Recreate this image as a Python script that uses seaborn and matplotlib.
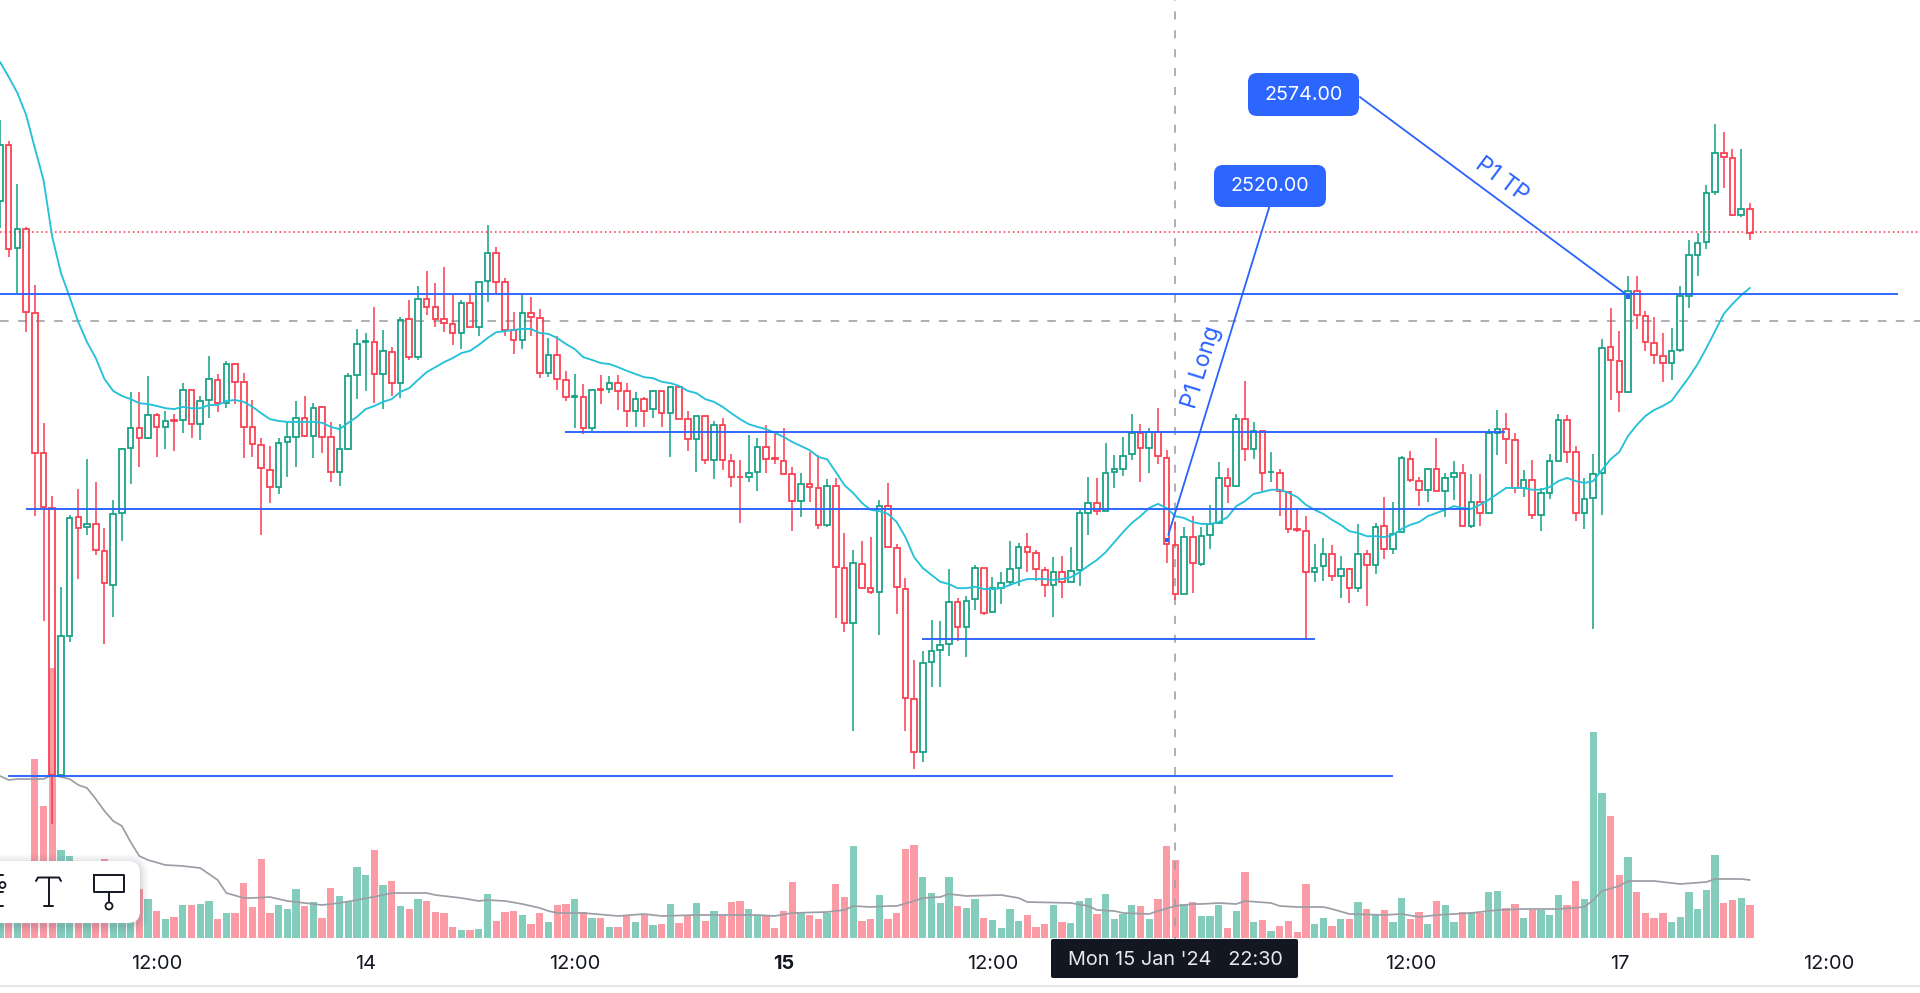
import numpy as np
import pandas as pd
import matplotlib
matplotlib.use("Agg")
import matplotlib.pyplot as plt
import seaborn as sns
from matplotlib.patches import FancyBboxPatch, Circle
from matplotlib.lines import Line2D
from matplotlib.transforms import IdentityTransform

highs = [
2612.2,2607.6,2598.1,2588.7,2575.9,2545.7,2529.6,2509.7,2525.5,2531.2,
2537.7,2532.7,2522.6,2528.8,2540.2,2552.5,2552.5,2556.0,2547.8,2548.3,
2547.6,2554.4,2552.9,2551.6,2560.4,2556.4,2559.3,2558.8,2556.6,2550.7,
2542.4,2540.6,2542.4,2545.9,2550.5,2551.6,2550.0,2549.4,2545.9,2545.4,
2556.6,2566.3,2565.4,2571.1,2566.1,2562.3,2568.9,2572.7,2575.7,2579.0,
2576.4,2579.9,2573.7,2572.7,2574.2,2576.6,2589.1,2584.3,2577.5,2570.0,
2573.7,2573.3,2570.7,2564.3,2564.7,2557.1,2556.4,2554.2,2553.1,2556.2,
2556.0,2556.2,2554.4,2552.5,2551.4,2552.9,2552.7,2553.8,2553.8,2548.3,
2547.2,2547.2,2546.1,2546.7,2538.8,2537.5,2543.0,2542.4,2545.2,2543.2,
2544.6,2536.0,2534.7,2539.3,2538.6,2533.4,2533.6,2521.5,2517.8,2519.7,
2520.6,2528.8,2532.5,2519.1,2511.6,2493.6,2495.6,2502.4,2502.2,2513.6,
2507.2,2507.7,2514.5,2513.8,2511.8,2512.9,2519.7,2519.3,2521.5,2517.8,
2514.0,2516.2,2516.5,2518.4,2526.6,2533.8,2533.6,2541.3,2538.6,2542.6,
2547.6,2545.4,2544.6,2548.9,2539.7,2523.9,2522.8,2525.2,2522.8,2527.7,
2537.1,2535.8,2547.6,2554.9,2545.9,2543.9,2539.3,2535.6,2530.7,2527.0,
2525.2,2519.1,2520.4,2518.9,2516.5,2513.8,2523.5,2517.8,2523.7,2529.4,
2528.3,2538.4,2539.5,2533.8,2535.8,2542.4,2534.7,2537.3,2536.6,2534.5,
2534.5,2544.3,2548.5,2547.8,2543.5,2535.3,2537.5,2531.4,2538.8,2547.6,
2547.4,2540.6,2533.6,2538.8,2564.1,2570.9,2565.8,2577.9,2577.9,2570.2,
2568.9,2565.4,2566.5,2575.7,2585.8,2587.4,2597.9,2611.3,2609.5,2605.8,
2605.8,2593.9]

lows = [
2588.5,2582.1,2574.2,2565.6,2525.2,2502.2,2457.6,2468.4,2497.6,2511.4,
2521.1,2516.7,2497.1,2503.1,2519.7,2532.3,2536.0,2542.1,2538.2,2539.9,
2539.5,2543.5,2542.4,2541.9,2546.7,2548.1,2548.9,2549.8,2538.0,2538.2,
2521.1,2528.1,2530.1,2533.8,2536.0,2542.6,2538.0,2539.1,2532.7,2531.8,
2539.7,2550.9,2552.7,2550.0,2548.7,2551.6,2551.1,2559.5,2559.5,2569.4,
2566.7,2565.6,2562.8,2561.9,2566.7,2564.7,2572.2,2574.2,2564.7,2560.8,
2561.9,2564.7,2555.5,2555.7,2552.9,2550.5,2544.6,2543.2,2543.9,2549.8,
2552.2,2548.5,2544.8,2544.8,2544.8,2546.7,2544.8,2538.2,2546.5,2539.5,
2534.9,2536.6,2533.4,2535.3,2531.6,2523.7,2532.7,2530.7,2534.7,2536.6,
2534.5,2521.9,2525.0,2528.3,2522.4,2522.8,2502.8,2499.8,2478.0,2509.2,
2508.1,2499.1,2518.4,2503.7,2478.0,2469.7,2471.2,2487.7,2487.7,2494.5,
2497.8,2494.3,2504.6,2503.5,2503.9,2505.9,2509.9,2509.9,2512.9,2511.0,
2507.5,2503.1,2507.2,2510.8,2509.9,2521.1,2525.5,2526.3,2531.4,2534.0,
2537.5,2532.7,2534.7,2536.6,2514.9,2506.8,2508.1,2508.3,2514.3,2518.0,
2523.5,2528.1,2531.8,2537.3,2537.7,2530.7,2532.7,2525.2,2521.5,2521.7,
2498.0,2510.8,2511.0,2511.0,2507.2,2506.1,2508.6,2505.5,2512.5,2515.8,
2516.9,2521.5,2532.7,2527.4,2528.3,2530.7,2525.0,2528.8,2523.0,2522.6,
2523.0,2525.7,2538.6,2536.6,2530.3,2529.4,2524.6,2521.9,2529.0,2537.3,
2536.9,2524.1,2522.4,2500.4,2525.5,2550.7,2548.1,2552.2,2566.3,2561.5,
2558.6,2554.7,2555.1,2561.2,2570.9,2577.9,2583.8,2595.7,2597.2,2591.1,
2590.9,2585.8]

opens = [
2594.4,2606.7,2584.1,2588.2,2569.8,2539.1,2527.0,2468.4,2498.9,2525.0,
2522.8,2523.5,2517.6,2510.1,2525.9,2540.2,2544.6,2542.4,2547.4,2544.8,
2546.4,2546.3,2552.9,2545.4,2550.7,2555.1,2550.0,2558.6,2554.7,2544.8,
2540.8,2535.3,2531.6,2541.5,2542.6,2546.7,2542.8,2549.2,2542.6,2534.9,
2539.9,2556.2,2563.4,2563.4,2556.4,2561.2,2554.4,2568.5,2560.1,2572.9,
2571.1,2568.5,2567.4,2565.4,2572.0,2566.7,2576.8,2583.0,2576.6,2566.1,
2563.9,2569.8,2568.7,2556.6,2560.6,2555.1,2551.3,2551.4,2544.6,2553.2,
2553.1,2554.4,2552.7,2548.3,2550.9,2548.7,2552.7,2547.8,2553.6,2546.5,
2542.1,2547.2,2537.5,2545.2,2537.3,2533.9,2533.8,2534.9,2540.4,2538.0,
2537.3,2534.5,2528.5,2532.3,2531.4,2523.3,2531.8,2513.8,2501.7,2514.7,
2509.4,2508.6,2527.4,2518.2,2509.2,2485.1,2473.4,2493.2,2495.8,2497.1,
2506.4,2500.9,2507.0,2513.8,2504.2,2509.4,2510.8,2513.8,2518.4,2517.1,
2513.4,2510.1,2512.9,2510.8,2513.4,2525.9,2528.1,2526.3,2534.9,2535.6,
2538.8,2543.5,2540.2,2543.7,2538.0,2518.9,2508.1,2520.6,2514.7,2521.1,
2523.7,2533.6,2531.8,2546.5,2539.9,2543.9,2534.9,2534.7,2530.5,2522.4,
2521.9,2512.9,2514.3,2516.9,2512.1,2513.6,2509.4,2516.9,2514.5,2523.0,
2518.0,2521.7,2537.7,2532.9,2531.0,2535.6,2530.7,2533.8,2534.7,2523.0,
2528.3,2525.9,2543.5,2544.3,2541.9,2531.4,2533.1,2525.5,2530.3,2537.3,
2546.3,2539.3,2525.9,2529.2,2534.7,2562.3,2559.3,2552.5,2574.6,2569.1,
2563.2,2560.4,2558.8,2561.7,2573.5,2582.5,2585.4,2596.4,2604.9,2603.8,
2591.3,2592.6]

closes = [
2606.7,2583.8,2588.2,2570.0,2539.1,2527.2,2468.4,2498.9,2524.8,2522.6,
2523.5,2517.8,2510.5,2525.7,2539.9,2544.6,2542.4,2547.4,2544.8,2546.1,
2546.2,2552.9,2545.4,2550.5,2555.3,2550.0,2558.6,2554.7,2544.8,2541.0,
2535.8,2531.6,2541.3,2542.6,2546.7,2542.8,2548.9,2542.6,2534.9,2539.9,
2556.0,2563.0,2563.7,2556.4,2561.5,2554.4,2568.3,2560.1,2572.9,2571.1,
2568.5,2567.6,2565.4,2572.0,2566.7,2576.6,2583.0,2576.6,2566.1,2563.9,
2569.8,2568.9,2556.6,2560.6,2555.3,2551.4,2551.5,2544.6,2552.9,2552.9,
2554.4,2552.7,2548.3,2550.9,2548.3,2552.7,2547.8,2553.6,2546.5,2542.1,
2547.2,2537.5,2545.2,2537.5,2533.8,2533.7,2534.7,2540.4,2537.7,2537.7,
2534.5,2528.5,2532.3,2531.6,2523.3,2531.8,2514.0,2501.7,2514.9,2509.4,
2508.6,2527.4,2518.4,2509.7,2485.3,2473.4,2493.0,2495.6,2496.9,2506.4,
2500.9,2506.6,2513.8,2503.9,2509.4,2510.5,2513.6,2518.4,2517.3,2513.6,
2510.1,2512.9,2510.8,2513.2,2525.9,2528.1,2526.3,2534.7,2535.6,2538.4,
2543.5,2540.2,2543.7,2538.4,2519.1,2508.1,2520.6,2514.9,2520.8,2523.5,
2533.6,2531.8,2546.5,2539.9,2543.9,2534.7,2534.9,2530.7,2522.4,2522.2,
2512.9,2513.8,2516.9,2512.1,2513.6,2509.4,2516.9,2514.5,2522.8,2518.0,
2521.3,2538.0,2533.1,2531.0,2535.6,2530.7,2533.6,2534.7,2523.0,2528.3,
2525.9,2543.5,2544.3,2542.1,2531.4,2533.1,2525.5,2530.3,2537.3,2546.3,
2539.3,2525.9,2529.0,2534.5,2562.1,2559.5,2552.5,2574.6,2569.4,2563.4,
2560.6,2558.8,2561.5,2573.5,2582.5,2585.2,2596.1,2604.9,2604.0,2591.3,
2592.6,2587.4]

volumes = [
55,60,55,50,179,132,270,88,82,65,
60,70,79,62,58,48,49,39,27,19,
21,33,33,34,37,19,25,25,55,31,
79,25,33,29,49,32,36,20,50,42,
36,71,63,88,53,57,32,29,39,37,
26,25,11,8,8,9,44,17,26,27,
23,14,25,16,33,34,39,26,20,20,
11,11,23,16,23,13,14,34,15,22,
35,17,27,23,36,37,29,23,23,10,
27,56,25,23,19,25,54,41,92,17,
19,43,19,25,89,93,61,45,35,61,
32,30,39,20,18,10,29,17,23,11,
14,33,16,15,37,40,24,44,19,24,
33,32,19,39,92,78,34,36,22,22,
33,10,27,66,16,18,7,12,17,6,
54,14,20,12,19,19,36,29,23,28,
16,40,19,26,14,37,33,16,26,26,
25,46,47,30,34,20,28,28,23,43,
33,57,39,206,145,122,63,81,46,25,
20,25,16,21,46,29,48,83,35,38,
40,33]

ema_values = [
2624.9,2621.6,2618.1,2613.3,2606.0,2599.0,2586.5,2578.6,2573.3,2567.8,
2563.4,2559.9,2555.3,2552.7,2551.6,2550.9,2550.0,2549.8,2549.4,2548.9,
2548.7,2549.2,2548.9,2548.9,2549.6,2549.6,2550.5,2550.7,2550.3,2549.2,
2547.8,2546.5,2546.1,2545.9,2545.9,2545.9,2545.9,2545.7,2544.8,2544.3,
2545.7,2547.0,2548.7,2549.4,2550.3,2550.9,2552.5,2553.3,2555.1,2556.8,
2557.9,2559.0,2559.9,2561.0,2561.5,2562.8,2564.3,2565.6,2565.8,2566.1,
2566.3,2566.3,2565.4,2565.2,2564.3,2563.0,2561.9,2560.1,2559.5,2558.8,
2558.6,2557.9,2557.1,2556.4,2555.7,2555.5,2554.7,2554.4,2553.8,2552.7,
2552.2,2550.9,2550.3,2549.2,2547.8,2546.5,2545.4,2544.8,2544.3,2543.5,
2542.6,2541.5,2540.6,2539.7,2538.2,2537.7,2534.9,2532.0,2530.3,2528.1,
2526.6,2526.3,2525.7,2523.9,2520.6,2516.2,2513.8,2512.3,2510.8,2510.3,
2509.4,2509.4,2509.7,2509.2,2509.2,2509.4,2510.1,2510.8,2511.4,2511.4,
2511.4,2511.2,2511.4,2511.8,2512.9,2514.3,2515.6,2517.3,2519.5,2521.7,
2523.7,2525.2,2527.0,2527.9,2527.0,2525.2,2524.8,2523.9,2523.5,2523.5,
2523.9,2525.0,2527.4,2528.5,2530.1,2530.5,2531.0,2531.0,2530.3,2529.4,
2527.7,2526.6,2525.7,2524.4,2523.3,2521.9,2521.5,2520.8,2520.8,2520.6,
2521.1,2522.4,2523.3,2523.9,2525.2,2525.9,2526.6,2527.4,2527.0,2526.8,
2527.7,2528.8,2530.1,2531.4,2531.4,2531.4,2531.0,2531.0,2531.6,2532.9,
2533.6,2532.9,2532.5,2532.9,2535.3,2537.7,2539.3,2542.8,2545.2,2547.2,
2548.5,2549.4,2550.5,2553.1,2555.7,2558.6,2562.1,2565.8,2569.6,2571.8,
2573.7,2575.3]

vol_ma_bars = [0,1,2,5,6,7,8,9,10,11,12,13,14,15,16,17,19,21,23,25,26,28,29,31,33,35,37,39,41,44,45,49,50,53,55,
               56,58,60,62,63,64,67,71,74,76,80,87,89,91,95,97,98,100,102,103,105,106,108,109,111,115,117,118,123,125,126,128,129,132,133,135,137,
               138,140,142,143,146,147,149,152,153,155,159,161,163,165,169,172,175,179,182,183,184,186,187,190,193,196,197,200,201]
vol_ma_values = [162,158,159,159,163,161,159,153,150,139,127,117,112,96,82,78,73,72,70,58,45,40,40,41,37,35,33,35,38,43,45,45,43,40,37,
                 38,37,34,30,27,25,25,22,24,22,23,23,22,25,26,28,32,31,32,32,37,40,41,44,42,43,40,36,35,32,28,27,25,24,27,32,34,
                 34,35,34,37,35,32,31,31,29,24,23,24,21,23,25,28,29,29,31,38,47,52,57,57,54,56,59,59,58]

level_prices = [2574.0, 2543.6, 2526.8, 2498.2, 2468.2]
level_starts = [0, 64.9, 3.0, 105.9, 0.9]
level_ends = [218, 172.9, 168.9, 151.0, 160.0]
last_price = 2587.5
prev_close_price = 2568.0
cross_bar = 135

tick_bars = [18, 42, 66, 90, 114, 162, 186, 210]
tick_texts = ["12:00", "14", "12:00", "15", "12:00", "12:00", "17", "12:00"]

long_x = [134.2, 145.8]
long_y = [2521.1, 2593.1]
tp_x = [156.2, 186.7]
tp_y = [2617.2, 2574.0]
anchor_x = [134, 187]
anchor_y = [2520.0, 2573.2]

GREEN, RED = "#12A083", "#FA3A4E"
VGREEN, VRED = "#84CDBD", "#FA9BA5"
BLUE = "#2962FF"
CYAN = "#25C1D9"
GRAY = "#9C9EA6"
INK = "#131722"
SPACING = 8.706

sns.set_theme(style="white", rc={"lines.scale_dashes": False})
plt.rcParams["font.family"] = ["Inter", "DejaVu Sans"]

W, H = 1920, 993
fig = plt.figure(figsize=(W / 100, H / 100), dpi=100, facecolor="white")
rect = [0, (H - 945) / H, 1, 945 / H]
axv = fig.add_axes(rect, zorder=1)
ax = fig.add_axes(rect, zorder=2, sharex=axv)
ax.patch.set_alpha(0)

idx = np.arange(len(closes))
o, h, l, c = map(np.array, (opens, highs, lows, closes))
up = c >= o
top, bot = np.maximum(o, c), np.minimum(o, c)
colors = np.where(up, GREEN, RED)

df = pd.DataFrame({"bar": idx, "volume": volumes, "dir": np.where(up, "up", "down")})
sns.barplot(data=df, x="bar", y="volume", hue="dir", palette={"up": VGREEN, "down": VRED},
            dodge=False, native_scale=True, width=0.84, saturation=1, linewidth=0,
            legend=False, ax=axv)
sns.lineplot(x=vol_ma_bars, y=vol_ma_values, color=GRAY, linewidth=1.25, estimator=None, ax=axv)
axv.set_ylim(-7, 938)

ax.vlines(idx, top, h, colors=colors, linewidth=1.1, zorder=3)
ax.vlines(idx, l, bot, colors=colors, linewidth=1.1, zorder=3)
ax.bar(idx, top - bot, bottom=bot, width=0.64, facecolor="none", edgecolor=colors, linewidth=1.25, zorder=3)

sns.lineplot(x=idx, y=ema_values, color=CYAN, linewidth=1.35, estimator=None, ax=ax, zorder=4)

ax.axhline(last_price, color=RED, linewidth=1.2, linestyle=(0, (1.1, 2.2)), zorder=2)
ax.axhline(prev_close_price, color=GRAY, linewidth=1.15, linestyle=(0, (6.2, 6.8)), zorder=2)
ax.axvline(cross_bar, color=GRAY, linewidth=1.15, linestyle=(0, (5.8, 7.8)), zorder=2)
ax.hlines(level_prices, level_starts, level_ends, colors=BLUE, linewidth=1.35, zorder=5)
sns.lineplot(x=long_x, y=long_y, color=BLUE, linewidth=1.3, estimator=None, ax=ax, zorder=5)
sns.lineplot(x=tp_x, y=tp_y, color=BLUE, linewidth=1.3, estimator=None, ax=ax, zorder=5)
sns.scatterplot(x=anchor_x, y=anchor_y, color=BLUE, marker="s", s=12, linewidth=0, ax=ax, zorder=6)

ax.text(138.0, 2557.8, "P1 Long", color=BLUE, fontsize=16.5, rotation=72.9,
        ha="center", va="center", rotation_mode="anchor")
ax.text(172.5, 2599.0, "P1 TP", color=BLUE, fontsize=16.5, rotation=-36.6,
        ha="center", va="center", rotation_mode="anchor")

ax.set_xlim(0, W / SPACING)
ax.set_ylim(2638.5 - 0.2195 * 945, 2638.5)
ax.set_yticks([])
axv.set_yticks([])
axv.set_ylabel("")
axv.set_xlabel("")
ax.set_ylabel("")
ax.set_xlabel("")
ax.set_xticks(tick_bars)
ax.set_xticklabels(tick_texts)
ax.tick_params(axis="x", length=0, pad=7.5, labelsize=14.4, colors=INK)
ax.get_xticklabels()[3].set_fontweight("bold")
plt.setp(axv.get_xticklabels(), visible=False)
axv.tick_params(axis="x", length=0)
for a in (ax, axv):
    for s in a.spines.values():
        s.set_visible(False)

# chrome drawn in figure pixels
T = IdentityTransform()
def Y(y):
    return H - y

def rbox(x0, y0, x1, y1, r, fc, z=10, alpha=1.0):
    p = FancyBboxPatch((x0, Y(y1)), x1 - x0, y1 - y0, boxstyle=f"round,pad=0,rounding_size={r}",
                       facecolor=fc, edgecolor="none", transform=T, zorder=z, alpha=alpha)
    fig.add_artist(p)

def seg(xs, ys, color=INK, lw=1.4, z=13):
    fig.add_artist(Line2D(xs, [Y(v) for v in ys], color=color, linewidth=lw, transform=T, zorder=z,
                          solid_capstyle="round"))

# price bubbles
rbox(1248, 73, 1359, 116, 9, "#2D66FF")
rbox(1214, 165, 1326, 207, 9, "#2D66FF")
fig.text(1304 / W, Y(95) / H, "2574.00", color="white", fontsize=14.2, ha="center", va="center", zorder=12)
fig.text(1270 / W, Y(186) / H, "2520.00", color="white", fontsize=14.2, ha="center", va="center", zorder=12)

# crosshair time label
rbox(1051, 939, 1298, 978, 2, INK)
fig.text(1175 / W, Y(960) / H, "Mon 15 Jan '24   22:30", color="#E8E9ED", fontsize=14.3,
         ha="center", va="center", zorder=12)

# toolbar with soft shadow
for grow, al in [(9, .02), (7, .03), (5, .04), (3, .05), (1.5, .06)]:
    rbox(-30 - grow, 861 - grow + 2, 140 + grow, 923 + grow + 2, 12 + grow, "#50566A", z=10, alpha=al)
rbox(-30, 861, 140, 923, 12, "white", z=11)
seg([36, 38, 59, 61], [881, 877.5, 877.5, 881])
seg([48.5, 48.5], [877.5, 906])
seg([44, 53], [906, 906])
seg([94, 124, 124, 94, 94], [874.5, 874.5, 891.5, 891.5, 874.5])
seg([109, 109], [891.5, 902])
fig.add_artist(Circle((109, Y(906)), 3.5, facecolor="none", edgecolor=INK, linewidth=1.3, transform=T, zorder=13))
seg([0, 3], [875, 875])
seg([0, 3], [892, 892])
seg([0, 3], [906, 906])
fig.add_artist(Circle((2.5, Y(885)), 3, facecolor="none", edgecolor=INK, linewidth=1.3, transform=T, zorder=13))

# bottom rule
seg([0, W], [986, 986], color="#E4E6EC", lw=1.4, z=9)

fig.savefig("out.png", dpi=100, facecolor="white")
